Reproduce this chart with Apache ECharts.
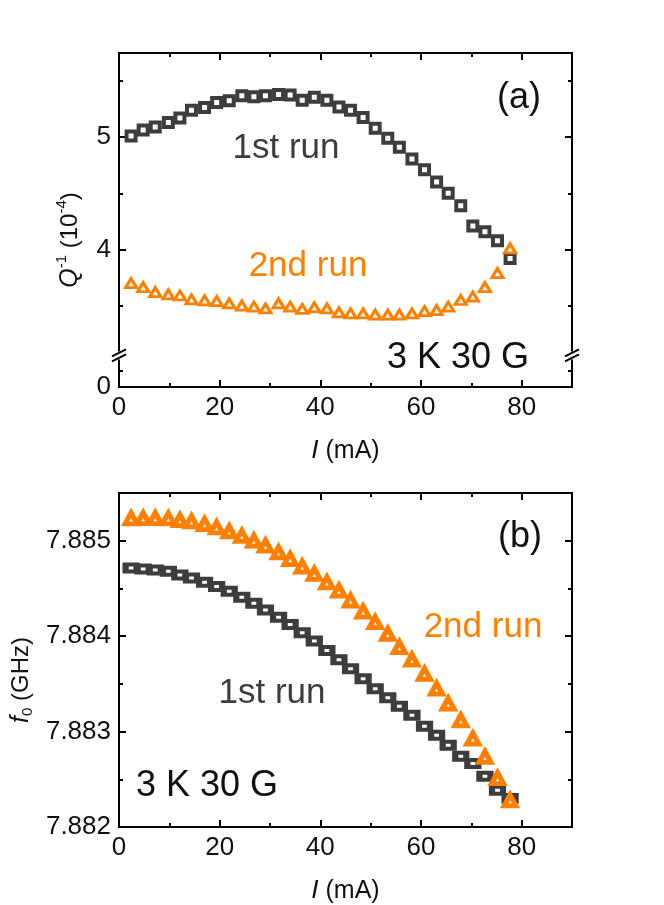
<!DOCTYPE html>
<html>
<head>
<meta charset="utf-8">
<script src="https://cdn.jsdelivr.net/npm/echarts@6/dist/echarts.min.js"></script>
<style>
  html, body { margin: 0; padding: 0; background: #fff; }
  #main { width: 664px; height: 905px; }
</style>
</head>
<body>
<div id="main"></div>
<script>
var FONT = "'Liberation Sans', Arial, sans-serif";
var DARK = '#3d3d3d';
var ORANGE = '#ff7f00';

// current, mA (same sweep for both runs)
var currentMA = [2.4, 4.8, 7.2, 9.8, 12.1, 14.4, 17.0, 19.4, 21.9, 24.4, 26.8, 29.1, 31.7, 34.0, 36.4, 38.8,
  41.3, 43.7, 46.0, 48.5, 50.9, 53.4, 55.7, 58.2, 60.7, 63.1, 65.4, 67.9, 70.3, 72.7, 75.2, 77.7];

// panel (a): Q^-1 in 1e-4
var qRun1 = [5.01, 5.065, 5.09, 5.13, 5.17, 5.24, 5.265, 5.31, 5.325, 5.37, 5.36, 5.37, 5.38, 5.375, 5.33, 5.355,
  5.33, 5.27, 5.24, 5.175, 5.08, 4.99, 4.91, 4.806, 4.71, 4.60, 4.50, 4.39, 4.21, 4.157, 4.077, 3.92];
var qRun2 = [3.70, 3.665, 3.62, 3.60, 3.59, 3.555, 3.547, 3.54, 3.52, 3.50, 3.49, 3.475, 3.52, 3.49, 3.47, 3.485,
  3.475, 3.44, 3.43, 3.43, 3.42, 3.42, 3.42, 3.43, 3.45, 3.46, 3.49, 3.55, 3.58, 3.665, 3.79, 4.01];

// panel (b): f0 in GHz
var fRun1 = [7.884714, 7.884704, 7.884693, 7.884679, 7.884641, 7.884610, 7.884564, 7.884519, 7.884470, 7.884408,
  7.884345, 7.884275, 7.884199, 7.884122, 7.884035, 7.883948, 7.883850, 7.883753, 7.883659, 7.883554, 7.883449,
  7.883355, 7.883265, 7.883171, 7.883056, 7.882962, 7.882857, 7.882742, 7.882666, 7.882533, 7.882385, 7.882300];
var fRun2 = [7.885235, 7.885237, 7.885237, 7.885233, 7.885216, 7.885202, 7.885174, 7.885139, 7.885098, 7.885052,
  7.885000, 7.884948, 7.884878, 7.884808, 7.884728, 7.884652, 7.884564, 7.884477, 7.884373, 7.884258, 7.884146,
  7.884024, 7.883885, 7.883753, 7.883606, 7.883449, 7.883293, 7.883118, 7.882927, 7.882735, 7.882512, 7.882278];

// axes
var xRange = [0, 90];
var xMajor = [0, 20, 40, 60, 80];
var xMinor = [10, 30, 50, 70];
var xTickLabels = ['0', '20', '40', '60', '80'];

var qRange = [2.775, 5.75];          // axis is broken: bottom edge stands for 0
var qMajor = [4, 5];
var qMinor = [2.922, 3.5, 4.5, 5.5];
var qLabelValues = [2.775, 4, 5];
var qTickLabels = ['0', '4', '5'];
var qBreakAt = 3.056;

var fRange = [7.882, 7.8855];
var fMajor = [7.882, 7.883, 7.884, 7.885];
var fMinor = [7.8825, 7.8835, 7.8845];
var fTickLabels = ['7.882', '7.883', '7.884', '7.885'];

function pairs(xs, ys) {
  return xs.map(function (x, i) { return [x, ys[i]]; });
}

function labelFor(values, labels) {
  return function (v) {
    var best = 0;
    for (var i = 1; i < values.length; i++) {
      if (Math.abs(values[i] - v) < Math.abs(values[best] - v)) best = i;
    }
    return labels[best];
  };
}

// one side of a frame: the line + major ticks (+labels), and a second axis for minor ticks
function sideAxes(grid, pos, range, major, minor, labelValues, labelFmt, name) {
  var main = {
    type: 'value', gridIndex: grid, position: pos, min: range[0], max: range[1],
    axisLine: { show: true, onZero: false, lineStyle: { color: '#000', width: 2 } },
    axisTick: { show: true, inside: true, length: 7, customValues: major, lineStyle: { color: '#000', width: 2 } },
    axisLabel: labelValues ? {
      show: true, customValues: labelValues, formatter: labelFmt, color: '#111',
      fontSize: 26, fontFamily: FONT, margin: 8
    } : { show: false },
    splitLine: { show: false }
  };
  if (name) {
    main.name = '{it|I}{n| (mA)}';
    main.nameLocation = 'middle';
    main.nameGap = 51;
    main.nameTextStyle = {
      color: '#111', fontFamily: FONT, fontSize: 25,
      rich: { it: { fontStyle: 'italic', fontSize: 26, fontFamily: FONT, color: '#111' },
              n: { fontSize: 25, fontFamily: FONT, color: '#111' } }
    };
  }
  var sub = {
    type: 'value', gridIndex: grid, position: pos, min: range[0], max: range[1],
    axisLine: { show: false, onZero: false },
    axisTick: { show: true, inside: true, length: 4, customValues: minor, lineStyle: { color: '#000', width: 2 } },
    axisLabel: { show: false },
    splitLine: { show: false }
  };
  return [main, sub];
}

var xAxes = [].concat(
  sideAxes(0, 'bottom', xRange, xMajor, xMinor, xMajor, labelFor(xMajor, xTickLabels), true),
  sideAxes(0, 'top', xRange, xMajor, xMinor),
  sideAxes(1, 'bottom', xRange, xMajor, xMinor, xMajor, labelFor(xMajor, xTickLabels), true),
  sideAxes(1, 'top', xRange, xMajor, xMinor)
);
var yAxes = [].concat(
  sideAxes(0, 'left', qRange, qMajor, qMinor, qLabelValues, labelFor(qLabelValues, qTickLabels)),
  sideAxes(0, 'right', qRange, qMajor, qMinor),
  sideAxes(1, 'left', fRange, fMajor, fMinor, fMajor, labelFor(fMajor, fTickLabels)),
  sideAxes(1, 'right', fRange, fMajor, fMinor)
);

function scatter(name, xi, yi, data, symbol, size, bw, color) {
  return {
    name: name, type: 'scatter', xAxisIndex: xi, yAxisIndex: yi,
    data: data, symbol: symbol, symbolSize: size,
    itemStyle: { color: '#fff', borderColor: color, borderWidth: bw, opacity: 1 },
    emphasis: { disabled: true }
  };
}

function txt(x, y, text, color, size, extra) {
  var s = {
    text: text, x: 0, y: 0, fill: color,
    font: size + 'px ' + FONT,
    align: 'center', verticalAlign: 'middle',
    textAlign: 'center', textVerticalAlign: 'middle'
  };
  if (extra) for (var k in extra) s[k] = extra[k];
  return { type: 'text', x: x, y: y, silent: true, z: 100, style: s };
}

var dom = document.getElementById('main');
var myChart = echarts.init(dom, null, { renderer: 'canvas' });

var option = {
  animation: false,
  backgroundColor: '#fff',
  grid: [
    { left: 119, top: 53, width: 453, height: 334 },
    { left: 119, top: 493, width: 453, height: 334 }
  ],
  xAxis: xAxes,
  yAxis: yAxes,
  series: [
    scatter('1st run', 0, 0, pairs(currentMA, qRun1), 'rect', 9, 4, DARK),
    scatter('2nd run', 0, 0, pairs(currentMA, qRun2), 'triangle', [11, 9], 3, ORANGE),
    scatter('1st run', 4, 4, pairs(currentMA, fRun1), 'rect', [11, 7], 5, DARK),
    scatter('2nd run', 4, 4, pairs(currentMA, fRun2), 'triangle', [12, 11], 5, ORANGE)
  ]
};
myChart.setOption(option);

// annotations, axis names and the axis-break marks
var gfx = [
  txt(519, 98, '(a)', '#111', 36),
  txt(286, 148, '1st run', DARK, 35),
  txt(308, 266, '2nd run', ORANGE, 35),
  txt(458, 358, '3 K 30 G', '#111', 36),
  txt(520, 537, '(b)', '#111', 36),
  txt(483, 627, '2nd run', ORANGE, 35),
  txt(272, 693, '1st run', DARK, 35),
  txt(207, 786, '3 K 30 G', '#111', 36)
];

var qName = txt(70, 240, '{it|Q}{sup|-1}{n| (10}{sup|-4}{n|)}', '#111', 24, {
  rich: {
    it: { fontStyle: 'italic', fontSize: 25, fontFamily: FONT },
    n: { fontSize: 24, fontFamily: FONT },
    sup: { fontSize: 15, fontFamily: FONT, padding: [0, 0, 16, 0] }
  }
});
qName.rotation = Math.PI / 2;
gfx.push(qName);

var fName = txt(21, 680, '{it|f}{sub|0}{n| (GHz)}', '#111', 24, {
  rich: {
    it: { fontStyle: 'italic', fontSize: 25, fontFamily: FONT },
    n: { fontSize: 24, fontFamily: FONT },
    sub: { fontSize: 15, fontFamily: FONT, padding: [14, 0, 0, 0] }
  }
});
fName.rotation = Math.PI / 2;
gfx.push(fName);

[xRange[0], xRange[1]].forEach(function (xv) {
  var p = myChart.convertToPixel({ xAxisIndex: 0, yAxisIndex: 0 }, [xv, qBreakAt]);
  gfx.push({ type: 'rect', z: 101, silent: true, shape: { x: p[0] - 3, y: p[1] - 4, width: 6, height: 8 }, style: { fill: '#fff' } });
  gfx.push({ type: 'line', z: 102, silent: true, shape: { x1: p[0] - 7, y1: p[1] + 1, x2: p[0] + 7, y2: p[1] - 6 }, style: { stroke: '#000', lineWidth: 2 } });
  gfx.push({ type: 'line', z: 102, silent: true, shape: { x1: p[0] - 7, y1: p[1] + 6, x2: p[0] + 7, y2: p[1] - 1 }, style: { stroke: '#000', lineWidth: 2 } });
});

myChart.setOption({ graphic: gfx });
</script>
</body>
</html>
